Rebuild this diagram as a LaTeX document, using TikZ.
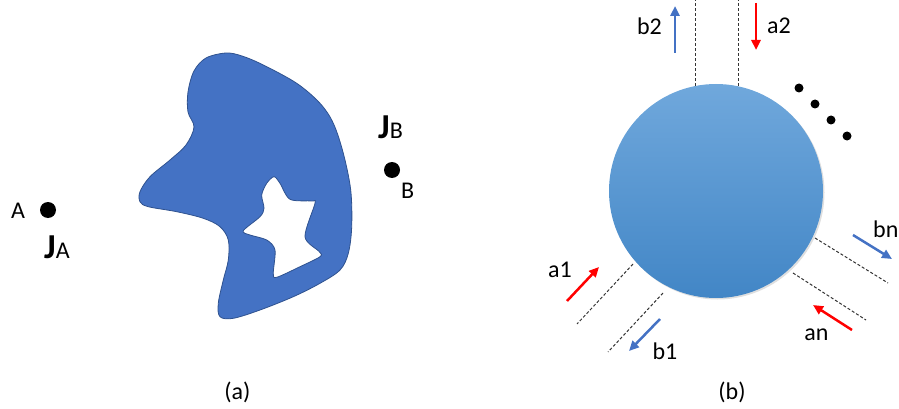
\documentclass[tikz,border=0pt]{standalone}
\usepackage{fontspec}
\setmainfont{Carlito}
\usetikzlibrary{positioning,arrows.meta,shadows}

\definecolor{blobblue}{RGB}{68,114,196}
\definecolor{blobedge}{RGB}{47,82,143}
\definecolor{balltop}{RGB}{112,168,220}
\definecolor{ballbot}{RGB}{66,134,198}

\begin{document}
\begin{tikzpicture}[x=1pt, y=-1pt,
    lbl/.style={inner sep=0pt, font=\fontsize{24}{26}\selectfont},
    pin/.style={circle, fill=black, inner sep=0pt, minimum size=16pt},
    dotty/.style={circle, fill=black, inner sep=0pt, minimum size=9pt},
    portline/.style={dashed, dash pattern=on 3pt off 2pt, line width=1pt, black!80},
    ain/.style={-{Triangle[length=10pt,width=9pt]}, line width=2.5pt, red},
    bout/.style={-{Triangle[length=10pt,width=9pt]}, line width=2.5pt, blobblue}]
    \useasboundingbox (0,0) rectangle (899,409);

    % (a) scatterer with a hole
    \path[fill=blobblue, draw=blobedge, line width=0.8pt, even odd rule]
        plot[smooth cycle, tension=0.55] coordinates {
            (226,53) (206,58) (194,71) (188,92) (188,112)
            (194,127) (186,145) (170,160) (150,176.7) (140,191.7)
            (140,201.7) (148.3,206.7) (176.7,211.7) (203.3,218.3) (220,226.7)
            (228.3,240) (228.3,260) (223.3,280) (218.3,303.3) (220,316.7)
            (233.3,318.3) (260,310) (293.3,296.7) (320,283.3) (340,270)
            (348.3,253.3) (351.7,226.7) (350.7,190) (343.3,153.3) (333.3,123.3)
            (320,103.3) (296.7,83.3) (263.3,65) (242,56)}
        plot[smooth cycle, tension=0.5] coordinates {
            (274,176.7) (266.7,183.3) (261.7,195) (264,208.3) (260,216.7)
            (243.3,230.7) (250,235) (266.7,240) (275,250) (273.3,273.3)
            (276.7,277.3) (300,266.7) (320,256.7) (319.3,251.7) (305,236.7)
            (315,203.3) (311.7,201) (290,199.3) (280,183.3)};

    % points A and B
    \node[pin] (ptA) at (48,210) {};
    \node[lbl, anchor=base west] (labA) at (11,218) {A};
    \node[lbl, anchor=base west] (curA) at (44,258) {{\fontsize{35}{35}\selectfont\bfseries J}A};
    \node[pin] (ptB) at (392,170) {};
    \node[lbl, anchor=base west] (labB) at (401,198) {B};
    \node[lbl, anchor=base west] (curB) at (378,139) {{\fontsize{35}{35}\selectfont\bfseries J}B};

    \node[lbl] (capa) at (237.5,392) {(a)};

    % (b) N-port junction
    \node[circle, minimum size=214pt, inner sep=0pt, top color=balltop, bottom color=ballbot,
          drop shadow={shadow xshift=1.5pt, shadow yshift=-1.5pt, opacity=0.25}] (ball) at (716,191) {};

    % port 2 (top)
    \coordinate (p2l) at (695,86);  \coordinate (p2lo) at (695,0);
    \coordinate (p2r) at (738,86);  \coordinate (p2ro) at (738,0);
    \draw[portline] (p2l) -- (p2lo);
    \draw[portline] (p2r) -- (p2ro);
    \coordinate (b2t) at (675,53);  \coordinate (b2h) at (675,6);
    \coordinate (a2t) at (756,3);   \coordinate (a2h) at (756,50);
    \draw[bout] (b2t) -- (b2h);
    \draw[ain] (a2t) -- (a2h);
    \node[lbl] (labb2) at (649.5,26) {b2};
    \node[lbl] (laba2) at (779,26) {a2};

    % port 1 (lower left)
    \coordinate (p1u) at (633,264); \coordinate (p1uo) at (577,324);
    \coordinate (p1d) at (663,293); \coordinate (p1do) at (608,352);
    \draw[portline] (p1u) -- (p1uo);
    \draw[portline] (p1d) -- (p1do);
    \coordinate (a1t) at (567,301); \coordinate (a1h) at (599,267);
    \coordinate (b1t) at (660,319); \coordinate (b1h) at (629,351);
    \draw[ain] (a1t) -- (a1h);
    \draw[bout] (b1t) -- (b1h);
    \node[lbl] (laba1) at (560,270) {a1};
    \node[lbl] (labb1) at (665,351) {b1};

    % port n (lower right)
    \coordinate (pnu) at (815,238); \coordinate (pnuo) at (888,283);
    \coordinate (pnd) at (793,273); \coordinate (pndo) at (866,320);
    \draw[portline] (pnu) -- (pnuo);
    \draw[portline] (pnd) -- (pndo);
    \coordinate (bnt) at (853,235); \coordinate (bnh) at (892,259);
    \coordinate (ant) at (852,330); \coordinate (anh) at (813,305);
    \draw[bout] (bnt) -- (bnh);
    \draw[ain] (ant) -- (anh);
    \node[lbl, anchor=west] (labbn) at (873,229) {bn};
    \node[lbl] (laban) at (816.5,335) {an};

    % remaining ports
    \node[dotty] (d1) at (799,88) {};
    \node[dotty] (d2) at (815,104) {};
    \node[dotty] (d3) at (831,120) {};
    \node[dotty] (d4) at (847,136) {};

    \node[lbl] (capb) at (732,392) {(b)};
\end{tikzpicture}
\end{document}
